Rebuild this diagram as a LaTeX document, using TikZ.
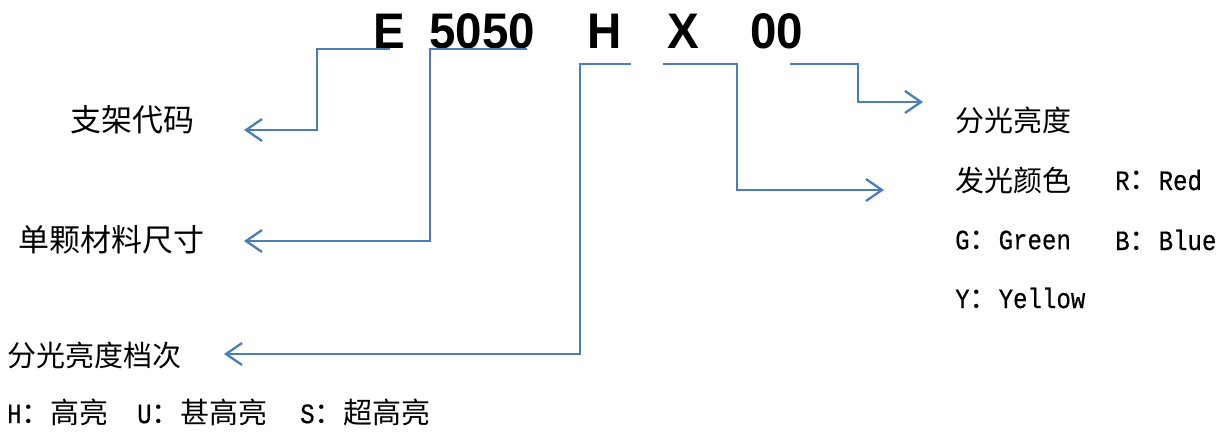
\documentclass[tikz,border=0pt]{standalone}
\usepackage{fontspec}
\usepackage{tikz}
\usetikzlibrary{arrows.meta}
\setmainfont{Liberation Mono}[FakeStretch=0.86,FakeBold=0.4]
\newfontfamily\cjk{Noto Sans CJK SC}
\newfontfamily\codefont{Liberation Sans}[FakeStretch=0.95]
\definecolor{linkblue}{HTML}{4A7EBB}
\newcommand{\cc}[1]{{\cjk\fontsize{29}{34}\selectfont #1}}
\tikzset{
  code/.style={anchor=base west,inner sep=0pt,font=\codefont\bfseries\fontsize{50}{50}\selectfont},
  lbl/.style={anchor=west,inner sep=0pt,font=\fontsize{28}{34}\selectfont},
  conn/.style={draw=linkblue,line width=2.3pt,-{Straight Barb[length=16pt,width=22pt,line width=2.3pt]}}
}
\begin{document}
\begin{tikzpicture}[x=1pt,y=-1pt]
    \useasboundingbox (0,0) rectangle (1232,432);
    %% product code
    \node[code] (E) at (373,48) {E};
    \node[code] (size) at (429,48) {5050};
    \node[code] (H) at (587,48) {H};
    \node[code] (X) at (667,48) {X};
    \node[code] (zero) at (750,48) {00};
    %% left labels
    \node[lbl,font=\cjk\fontsize{31}{36}\selectfont] (frame) at (70,120) {支架代码};
    \node[lbl,font=\cjk\fontsize{31}{36}\selectfont] (chip) at (18,240) {单颗材料尺寸};
    \node[lbl,font=\cjk\fontsize{29}{34}\selectfont] (grade) at (7,355) {分光亮度档次};
    \node[lbl] (grade-h) at (7,412) {H\cc{：高亮}};
    \node[lbl] (grade-u) at (137,412) {U\cc{：甚高亮}};
    \node[lbl] (grade-s) at (300,412) {S\cc{：超高亮}};
    %% right labels
    \node[lbl,font=\cjk\fontsize{29}{34}\selectfont] (bin) at (955,120) {分光亮度};
    \node[lbl,font=\cjk\fontsize{29}{34}\selectfont] (colour) at (955,180) {发光颜色};
    \node[lbl] (red) at (1115,180) {R\cc{：}Red};
    \node[lbl] (green) at (955,240) {G\cc{：}Green};
    \node[lbl] (blue) at (1115,240) {B\cc{：}Blue};
    \node[lbl] (yellow) at (955,298) {Y\cc{：}Yellow};
    %% ends of the connectors
    \coordinate (E-s) at (390,49);
    \coordinate (size-s) at (527,49);
    \coordinate (H-s) at (631,64);
    \coordinate (X-s) at (663,64);
    \coordinate (zero-s) at (790,64);
    \coordinate (frame-t) at (244,130);
    \coordinate (chip-t) at (244,241);
    \coordinate (grade-t) at (224,354);
    \coordinate (colour-t) at (884,190);
    \coordinate (bin-t) at (923,102);
    %% leftward arrows
    \draw[conn] (E-s) -- ++(-73,0) |- (frame-t);
    \draw[conn] (size-s) -- ++(-97,0) |- (chip-t);
    \draw[conn] (H-s) -- ++(-51,0) |- (grade-t);
    %% rightward arrows
    \draw[conn] (X-s) -- ++(74,0) |- (colour-t);
    \draw[conn] (zero-s) -- ++(68,0) |- (bin-t);
\end{tikzpicture}
\end{document}
